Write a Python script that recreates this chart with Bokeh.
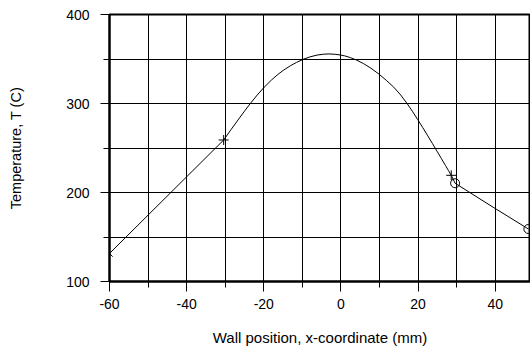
from bokeh.plotting import figure
from bokeh.models import SingleIntervalTicker, Range1d, CustomJSTickFormatter
from bokeh.embed import file_html
from bokeh.resources import INLINE

# Temperature profile through the wall
curve_x = [-60.0, -30.4, -28.5, -26.9, -25.0, -23.4, -21.7, -20.0, -18.0, -16.5, -15.0,
           -13.1, -11.5, -9.6, -8.0, -6.2, -4.5, -3.1, -1.5, -0.1, 1.0, 2.5, 4.0, 5.9,
           7.8, 9.9, 11.8, 13.7, 15.5, 17.2, 18.6, 19.9, 21.2, 22.4, 23.7, 25.0, 26.0,
           27.1, 27.9, 28.6, 29.6, 40.0, 48.6]
curve_t = [131.5, 259.0, 270.6, 280.2, 291.4, 300.5, 309.5, 317.8, 326.4, 332.1, 337.1,
           342.4, 346.2, 350.0, 352.4, 354.4, 355.4, 355.7, 355.3, 354.5, 353.5, 351.5, 348.9, 344.7,
           339.6, 332.9, 325.9, 318.3, 309.5, 299.7, 290.8, 282.0, 273.0, 264.5, 255.2, 245.8, 238.5,
           230.4, 224.5, 219.3, 210.4, 182.0, 159.0]

# Marked nodes
x_mark_x = [-60.0]
x_mark_t = [131.5]
plus_x = [-30.4, 28.6]
plus_t = [259.0, 219.3]
circle_x = [29.6, 48.6]
circle_t = [210.4, 159.0]

FONT = "Liberation Sans"

p = figure(width=530, height=349, output_backend="svg", toolbar_location=None,
           x_range=Range1d(-60, 49.15), y_range=Range1d(100, 400),
           min_border_left=109, min_border_right=0, min_border_top=14, min_border_bottom=68)

p.line(curve_x, curve_t, line_color="black", line_width=1)
p.scatter(x_mark_x, x_mark_t, marker="x", size=9, line_color="black", line_width=1)
p.scatter(plus_x, plus_t, marker="cross", size=10, line_color="black", line_width=1)
p.scatter(circle_x, circle_t, marker="circle", size=9, fill_color=None, line_color="black", line_width=1)

p.xaxis.ticker = SingleIntervalTicker(interval=20, num_minor_ticks=2)
p.yaxis.ticker = SingleIntervalTicker(interval=100, num_minor_ticks=2)

for ax in (p.xaxis, p.yaxis):
    ax.formatter = CustomJSTickFormatter(code="return String(Math.round(tick));")
    ax.axis_line_color = "black"
    ax.axis_line_width = 2
    ax.major_tick_line_color = "black"
    ax.minor_tick_line_color = "black"
    ax.major_tick_in = 0
    ax.minor_tick_in = 0
    ax.minor_tick_out = 6
    ax.major_label_text_font = FONT
    ax.major_label_text_font_size = "14px"
    ax.major_label_text_color = "black"
    ax.axis_label_text_font = FONT
    ax.axis_label_text_font_style = "normal"
    ax.axis_label_text_color = "black"

p.xaxis.axis_label_text_font_size = "15px"
p.yaxis.axis_label_text_font_size = "14.5px"
p.xaxis.major_tick_out = 10
p.yaxis.major_tick_out = 9
p.xaxis.major_label_standoff = 7
p.yaxis.major_label_standoff = 11
p.xaxis.axis_label = "Wall position, x-coordinate (mm)"
p.yaxis.axis_label = "Temperature, T (C)"
p.xaxis.axis_label_standoff = 17
p.yaxis.axis_label_standoff = 39

for g in (p.xgrid, p.ygrid):
    g.grid_line_color = "black"
    g.grid_line_width = 1
    g.minor_grid_line_color = "black"
    g.minor_grid_line_width = 1

p.outline_line_color = "black"
p.outline_line_width = 2
p.background_fill_color = "white"
p.border_fill_color = "white"

open("out.html", "w").write(file_html(p, INLINE))
